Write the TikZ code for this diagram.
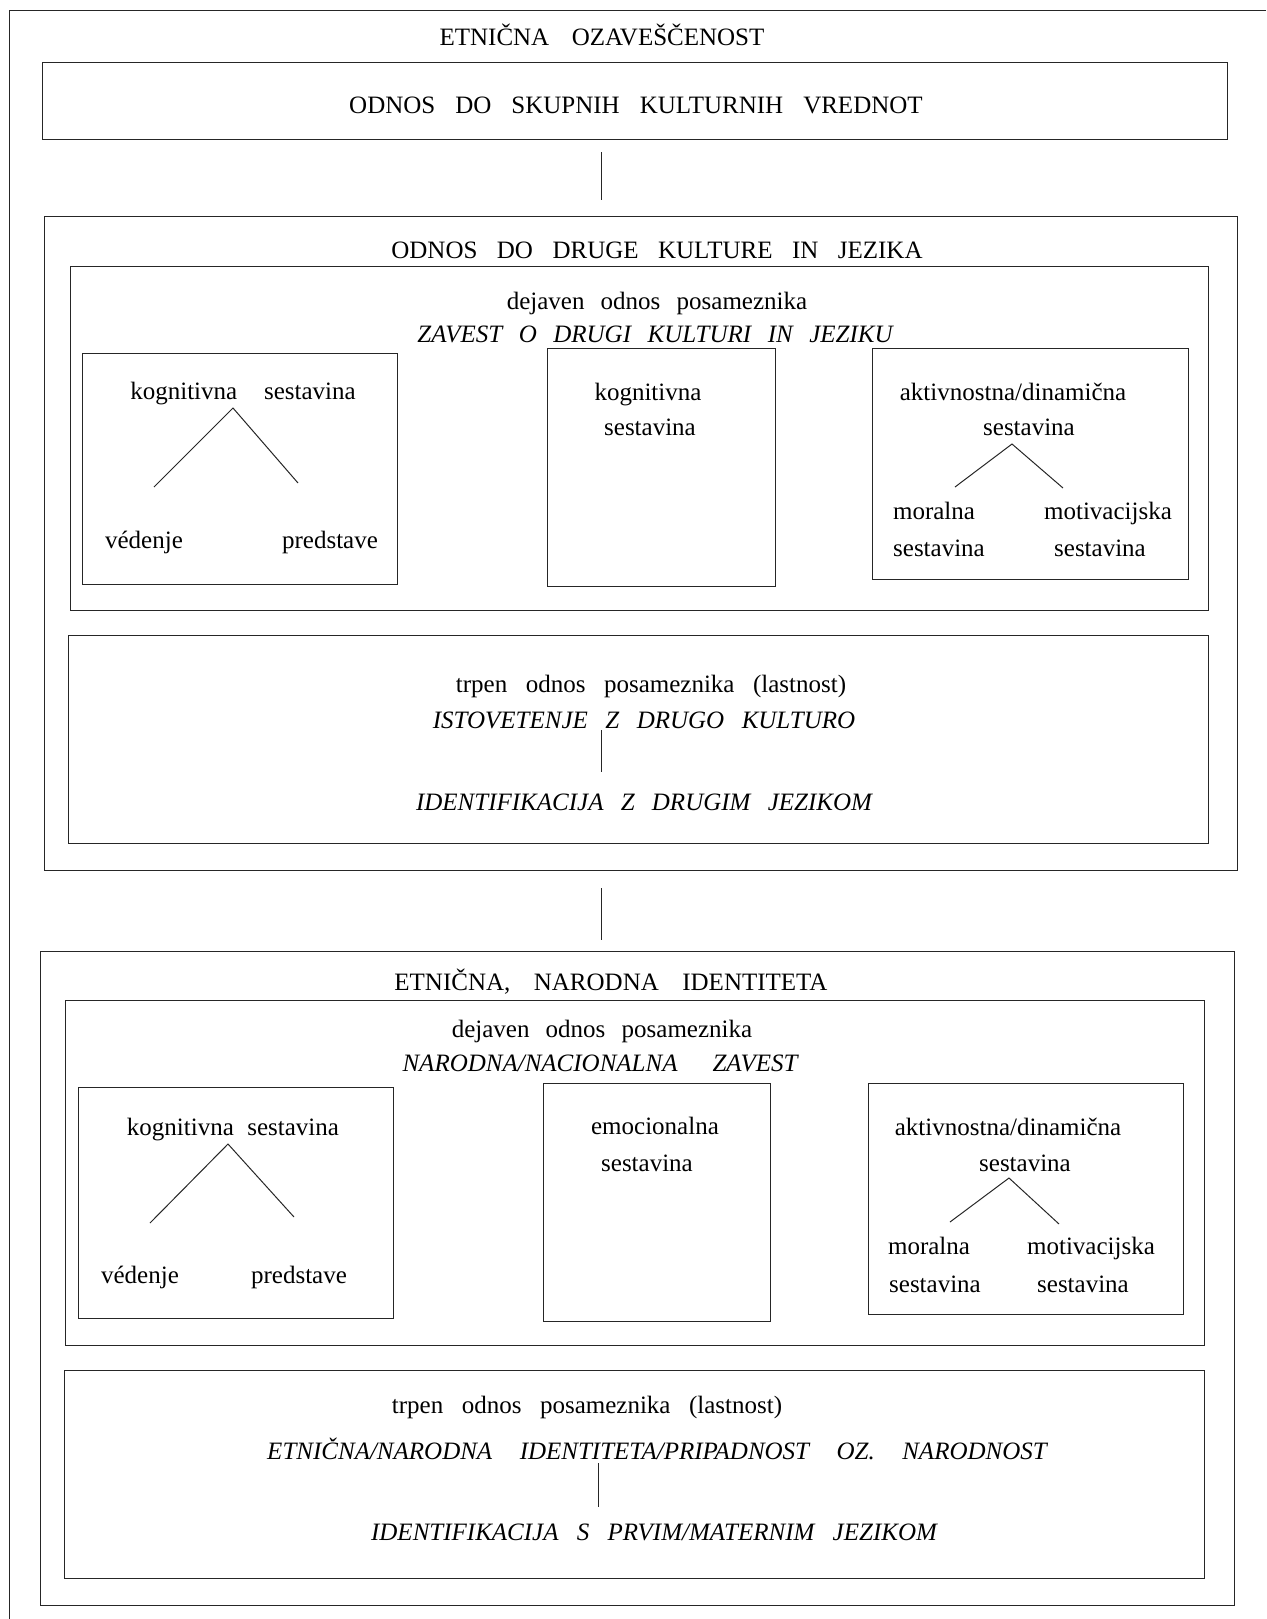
\documentclass[tikz,border=0pt]{standalone}
\usepackage{fontspec}
\setmainfont{Liberation Serif}
\usetikzlibrary{positioning, fit}
\tikzset{
    frame/.style={draw=black!85, line width=0.5pt, inner sep=0pt},
    link/.style={draw=black!85, line width=0.5pt},
    txt/.style={font=\fontsize{12.5}{15}\selectfont, execute at begin node={\spaceskip=#1\relax}, inner sep=0pt, anchor=base},
    txt/.default=.65em,
    itxt/.style={txt=#1, font=\fontsize{12.5}{15}\selectfont\itshape},
    itxt/.default=.68em
}
% drevo: vrh, levi konec, desni konec
\newcommand{\drevo}[3]{
    \draw[link] (#2) -- (#1) -- (#3);
}

\begin{document}
\begin{tikzpicture}[x=0.5pt, y=-0.5pt]
    \useasboundingbox (0,0) rectangle (1266,1619);
    \draw[link] (1266,10) -- (9,10) -- (9,1619);

    % vrh
    \node[txt=.9em] (naslov) at (602,45) {ETNIČNA OZAVEŠČENOST};
    \node[frame, fit={(42,62) (1227,139)}] (skupne) {};
    \node[txt=.8em] (skupneT) at (636,113) {ODNOS DO SKUPNIH KULTURNIH VREDNOT};
    \coordinate (v1a) at (601,152);
    \coordinate (v1b) at (601,200);
    \draw[link] (v1a) -- (v1b);

    % druga kultura in jezik
    \node[frame, fit={(44,216) (1237,870)}] (druga) {};
    \node[txt=.78em] (drugaT) at (657,258) {ODNOS DO DRUGE KULTURE IN JEZIKA};
    \node[frame, fit={(70,266) (1208,610)}] (dej1) {};
    \node[txt] (dej1T) at (657,309) {dejaven odnos posameznika};
    \node[itxt=.66em] (dej1I) at (655,342) {ZAVEST O DRUGI KULTURI IN JEZIKU};

    \node[frame, fit={(82,353) (397,584)}] (kog1) {};
    \node[txt=1.07em] (kog1T) at (243,399) {kognitivna sestavina};
    \coordinate (kog1v) at (233,408);
    \coordinate (kog1l) at (154,487);
    \coordinate (kog1d) at (298,483);
    \drevo{kog1v}{kog1l}{kog1d}
    \node[txt] (ved1) at (144,548) {védenje};
    \node[txt] (pre1) at (330,548) {predstave};

    \node[frame, fit={(547,348) (775,586)}] (kogm1) {};
    \node[txt] (kogm1a) at (648,400) {kognitivna};
    \node[txt] (kogm1b) at (650,435) {sestavina};

    \node[frame, fit={(872,348) (1188,579)}] (akt1) {};
    \node[txt] (akt1a) at (1013,400) {aktivnostna/dinamična};
    \node[txt] (akt1b) at (1029,435) {sestavina};
    \coordinate (akt1v) at (1012,444);
    \coordinate (akt1l) at (955,487);
    \coordinate (akt1d) at (1063,488);
    \drevo{akt1v}{akt1l}{akt1d}
    \node[txt] (mor1) at (934,519) {moralna};
    \node[txt] (mot1) at (1108,519) {motivacijska};
    \node[txt] (mor1s) at (939,556) {sestavina};
    \node[txt] (mot1s) at (1100,556) {sestavina};

    \node[frame, fit={(68,635) (1208,843)}] (trp1) {};
    \node[txt=.74em] (trp1T) at (651,692) {trpen odnos posameznika (lastnost)};
    \node[itxt=.7em] (ist1) at (644,728) {ISTOVETENJE Z DRUGO KULTURO};
    \node[itxt=.69em] (idn1) at (644,810) {IDENTIFIKACIJA Z DRUGIM JEZIKOM};
    \coordinate (t1a) at (601,730);
    \coordinate (t1b) at (601,772);
    \draw[link] (t1a) -- (t1b);

    \coordinate (v2a) at (601,888);
    \coordinate (v2b) at (601,940);
    \draw[link] (v2a) -- (v2b);

    % narodna identiteta
    \node[frame, fit={(40,951) (1234,1605)}] (etn) {};
    \node[txt=.94em] (etnT) at (611,990) {ETNIČNA, NARODNA IDENTITETA};
    \node[frame, fit={(65,1000) (1204,1345)}] (dej2) {};
    \node[txt] (dej2T) at (602,1037) {dejaven odnos posameznika};
    \node[itxt=1.4em] (dej2I) at (600,1071) {NARODNA/NACIONALNA ZAVEST};

    \node[frame, fit={(78,1087) (393,1318)}] (kog2) {};
    \node[txt=.54em] (kog2T) at (233,1135) {kognitivna sestavina};
    \coordinate (kog2v) at (228,1144);
    \coordinate (kog2l) at (150,1223);
    \coordinate (kog2d) at (294,1217);
    \drevo{kog2v}{kog2l}{kog2d}
    \node[txt] (ved2) at (140,1283) {védenje};
    \node[txt] (pre2) at (299,1283) {predstave};

    \node[frame, fit={(543,1083) (770,1321)}] (emo) {};
    \node[txt] (emoa) at (655,1134) {emocionalna};
    \node[txt] (emob) at (647,1171) {sestavina};

    \node[frame, fit={(868,1083) (1183,1314)}] (akt2) {};
    \node[txt] (akt2a) at (1008,1135) {aktivnostna/dinamična};
    \node[txt] (akt2b) at (1025,1171) {sestavina};
    \coordinate (akt2v) at (1009,1178);
    \coordinate (akt2l) at (950,1222);
    \coordinate (akt2d) at (1059,1224);
    \drevo{akt2v}{akt2l}{akt2d}
    \node[txt] (mor2) at (929,1254) {moralna};
    \node[txt] (mot2) at (1091,1254) {motivacijska};
    \node[txt] (mor2s) at (935,1292) {sestavina};
    \node[txt] (mot2s) at (1083,1292) {sestavina};

    \node[frame, fit={(64,1370) (1204,1578)}] (trp2) {};
    \node[txt=.74em] (trp2T) at (587,1413) {trpen odnos posameznika (lastnost)};
    \node[itxt=1.1em] (pri2) at (657,1459) {ETNIČNA/NARODNA IDENTITETA/PRIPADNOST OZ. NARODNOST};
    \node[itxt=.73em] (idn2) at (654,1540) {IDENTIFIKACIJA S PRVIM/MATERNIM JEZIKOM};
    \coordinate (t2a) at (598,1463);
    \coordinate (t2b) at (598,1507);
    \draw[link] (t2a) -- (t2b);
\end{tikzpicture}
\end{document}
